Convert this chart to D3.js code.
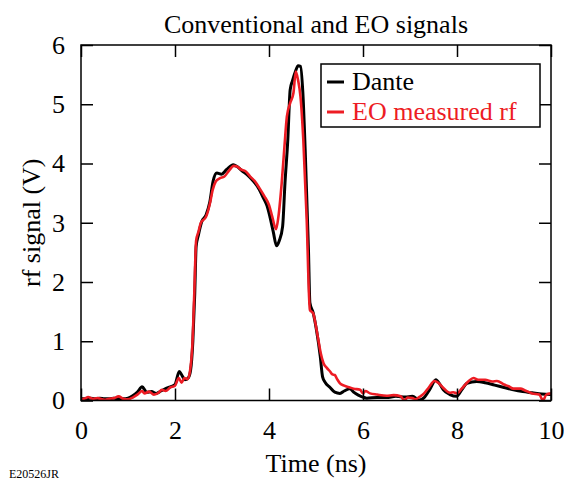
<!DOCTYPE html>
<html>
<head>
<meta charset="utf-8">
<script src="https://cdnjs.cloudflare.com/ajax/libs/d3/7.8.5/d3.min.js"></script>
<style>
  body { margin: 0; background: #fff; }
  text { font-family: "Liberation Serif", "Times New Roman", serif; }
</style>
</head>
<body>
<div id="chart"></div>
<script>
// values: [time (ns), signal (V)]
var dante = [
  [0,0.03],[0.1,0.03],[0.2,0.04],[0.3,0.03],[0.4,0.04],[0.5,0.03],[0.6,0.03],[0.7,0.04],
  [0.8,0.03],[0.9,0.03],[1.0,0.04],[1.1,0.08],[1.2,0.14],[1.3,0.23],[1.4,0.14],[1.5,0.15],
  [1.6,0.12],[1.7,0.16],[1.8,0.2],[1.9,0.23],[2.0,0.27],[2.09,0.49],[2.15,0.42],[2.21,0.35],
  [2.28,0.38],[2.33,0.5],[2.38,1.0],[2.42,1.8],[2.45,2.6],[2.5,2.8],[2.57,3.02],[2.66,3.13],
  [2.74,3.35],[2.81,3.7],[2.89,3.84],[2.99,3.82],[3.1,3.9],[3.24,3.98],[3.32,3.95],[3.42,3.88],
  [3.55,3.8],[3.67,3.7],[3.78,3.58],[3.88,3.42],[3.96,3.28],[4.02,3.1],[4.09,2.85],[4.16,2.61],
  [4.22,2.7],[4.29,2.94],[4.34,3.67],[4.4,4.4],[4.45,5.24],[4.5,5.4],[4.56,5.55],[4.62,5.65],
  [4.67,5.64],[4.72,5.2],[4.77,4.23],[4.84,2.54],[4.87,1.65],[4.94,1.48],[5.01,1.19],[5.09,0.75],
  [5.14,0.4],[5.2,0.3],[5.3,0.22],[5.4,0.14],[5.51,0.12],[5.6,0.16],[5.72,0.2],[5.8,0.14],
  [5.9,0.09],[6.08,0.04],[6.3,0.05],[6.5,0.05],[6.7,0.07],[6.9,0.06],[7.05,0.07],[7.2,0.01],
  [7.3,0.05],[7.43,0.2],[7.55,0.35],[7.63,0.28],[7.71,0.18],[7.85,0.1],[7.99,0.07],[8.1,0.18],
  [8.21,0.29],[8.42,0.32],[8.6,0.3],[8.8,0.26],[9.0,0.22],[9.2,0.18],[9.4,0.15],[9.6,0.13],
  [9.8,0.11],[10,0.1]
];

var eo = [
  [0,0.02],[0.1,0.04],[0.15,0.06],[0.25,0.03],[0.35,0.04],[0.5,0.01],[0.6,0.03],[0.7,0.04],
  [0.8,0.07],[0.9,0.03],[1.0,0.02],[1.1,0.05],[1.2,0.1],[1.3,0.16],[1.35,0.12],[1.45,0.15],
  [1.55,0.1],[1.65,0.13],[1.72,0.18],[1.8,0.16],[1.9,0.22],[2.0,0.25],[2.08,0.38],[2.14,0.3],
  [2.2,0.38],[2.27,0.36],[2.32,0.5],[2.37,0.95],[2.41,1.8],[2.45,2.7],[2.5,2.85],[2.55,3.0],
  [2.66,3.1],[2.75,3.35],[2.8,3.55],[2.87,3.7],[2.95,3.75],[3.05,3.78],[3.15,3.88],[3.25,3.96],
  [3.32,3.95],[3.4,3.9],[3.5,3.87],[3.6,3.78],[3.7,3.7],[3.8,3.58],[3.9,3.45],[4.0,3.3],
  [4.07,3.1],[4.15,2.89],[4.2,3.1],[4.27,3.67],[4.33,4.3],[4.38,4.79],[4.45,5.02],[4.52,5.19],
  [4.57,5.55],[4.62,5.4],[4.67,5.13],[4.73,4.4],[4.8,3.1],[4.87,1.53],[4.94,1.47],[5.0,1.25],
  [5.05,1.02],[5.1,0.8],[5.16,0.63],[5.23,0.55],[5.3,0.49],[5.35,0.44],[5.4,0.43],[5.45,0.36],
  [5.51,0.29],[5.6,0.25],[5.72,0.22],[5.8,0.2],[5.94,0.18],[6.0,0.12],[6.05,0.16],[6.15,0.12],
  [6.3,0.1],[6.5,0.08],[6.65,0.09],[6.8,0.07],[6.88,0.0],[6.95,0.05],[7.05,0.04],[7.12,0.02],
  [7.2,0.06],[7.3,0.12],[7.4,0.22],[7.52,0.33],[7.6,0.3],[7.7,0.22],[7.85,0.13],[7.92,0.14],
  [8.0,0.12],[8.1,0.2],[8.25,0.33],[8.35,0.38],[8.45,0.35],[8.6,0.35],[8.75,0.32],[8.85,0.33],
  [9.0,0.27],[9.1,0.24],[9.2,0.2],[9.35,0.2],[9.45,0.17],[9.6,0.12],[9.75,0.1],[9.83,0.0],
  [9.9,0.1],[10,0.12]
];

var xTicks = [0, 2, 4, 6, 8, 10];
var yTicks = [0, 1, 2, 3, 4, 5, 6];
var seriesNames = ["Dante", "EO measured rf"];
var seriesColors = ["#000000", "#ed1c24"];

// set up the svg
// (note: "top" is a read-only global in browsers, so plot edges get a prefix)

var W = 564, H = 480;
var pLeft = 81, pRight = 551, pTop = 45, pBottom = 400.5;
var tickLen = 12;

var svg = d3.select("#chart")
  .append("svg")
  .attr("width", W)
  .attr("height", H);

var x = d3.scaleLinear().domain([0, 10]).range([pLeft, pRight]);
var y = d3.scaleLinear().domain([0, 6]).range([pBottom, pTop]);

svg.append("clipPath").attr("id", "plotclip")
  .append("rect")
  .attr("x", pLeft).attr("y", pTop)
  .attr("width", pRight - pLeft).attr("height", pBottom - pTop);

// curves, black first then red on top
var line = d3.line()
  .x(function(d) { return x(d[0]); })
  .y(function(d) { return y(d[1]); })
  .curve(d3.curveMonotoneX);

var curves = svg.append("g").attr("clip-path", "url(#plotclip)");
curves.append("path")
  .datum(dante)
  .attr("d", line)
  .attr("fill", "none")
  .attr("stroke", seriesColors[0])
  .attr("stroke-width", 3)
  .attr("stroke-linejoin", "round");
curves.append("path")
  .datum(eo)
  .attr("d", line)
  .attr("fill", "none")
  .attr("stroke", seriesColors[1])
  .attr("stroke-width", 2.6)
  .attr("stroke-linejoin", "round");

// axes: ticks point inward on every side
var axisStyle = function(g) {
  g.select(".domain").remove();
  g.selectAll(".tick line").attr("stroke", "#000").attr("stroke-width", 1.5);
  g.selectAll(".tick text")
    .attr("fill", "#000")
    .style("font-family", "'Liberation Serif', 'Times New Roman', serif")
    .style("font-size", "26px");
};

svg.append("g")
  .attr("transform", "translate(0," + pBottom + ")")
  .call(d3.axisBottom(x).tickValues(xTicks).tickFormat(d3.format("d"))
    .tickSizeInner(-tickLen).tickSizeOuter(0).tickPadding(20))
  .call(axisStyle);

svg.append("g")
  .attr("transform", "translate(" + pLeft + ",0)")
  .call(d3.axisLeft(y).tickValues(yTicks).tickFormat(d3.format("d"))
    .tickSizeInner(-tickLen).tickSizeOuter(0).tickPadding(16))
  .call(axisStyle);

svg.append("g")
  .attr("transform", "translate(0," + pTop + ")")
  .call(d3.axisTop(x).tickValues(xTicks).tickSizeInner(-tickLen).tickSizeOuter(0).tickFormat(""))
  .call(axisStyle);

svg.append("g")
  .attr("transform", "translate(" + pRight + ",0)")
  .call(d3.axisRight(y).tickValues(yTicks).tickSizeInner(-tickLen).tickSizeOuter(0).tickFormat(""))
  .call(axisStyle);

// frame
svg.append("rect")
  .attr("x", pLeft).attr("y", pTop)
  .attr("width", pRight - pLeft).attr("height", pBottom - pTop)
  .attr("fill", "none")
  .attr("stroke", "#000")
  .attr("stroke-width", 1.5);

// titles

svg.append("text")
  .attr("x", (pLeft + pRight) / 2)
  .attr("y", 33)
  .attr("text-anchor", "middle")
  .style("font-size", "26px")
  .text("Conventional and EO signals");

svg.append("text")
  .attr("x", (pLeft + pRight) / 2)
  .attr("y", 472)
  .attr("text-anchor", "middle")
  .style("font-size", "26px")
  .text("Time (ns)");

svg.append("text")
  .attr("transform", "translate(40," + ((pTop + pBottom) / 2) + ") rotate(-90)")
  .attr("text-anchor", "middle")
  .style("font-size", "26px")
  .text("rf signal (V)");

svg.append("text")
  .attr("x", 9)
  .attr("y", 478)
  .style("font-size", "12px")
  .text("E20526JR");

// legend

var lg = svg.append("g");
lg.append("rect")
  .attr("x", 321).attr("y", 64)
  .attr("width", 219).attr("height", 63)
  .attr("fill", "#fff")
  .attr("stroke", "#000")
  .attr("stroke-width", 1.5);

seriesNames.forEach(function(name, i) {
  var yy = 82 + i * 30;
  lg.append("line")
    .attr("x1", 327).attr("x2", 344)
    .attr("y1", yy).attr("y2", yy)
    .attr("stroke", seriesColors[i])
    .attr("stroke-width", 3);
  lg.append("text")
    .attr("x", 352)
    .attr("y", yy + 8)
    .attr("fill", seriesColors[i])
    .style("font-size", "26px")
    .text(name);
});
</script>
</body>
</html>
